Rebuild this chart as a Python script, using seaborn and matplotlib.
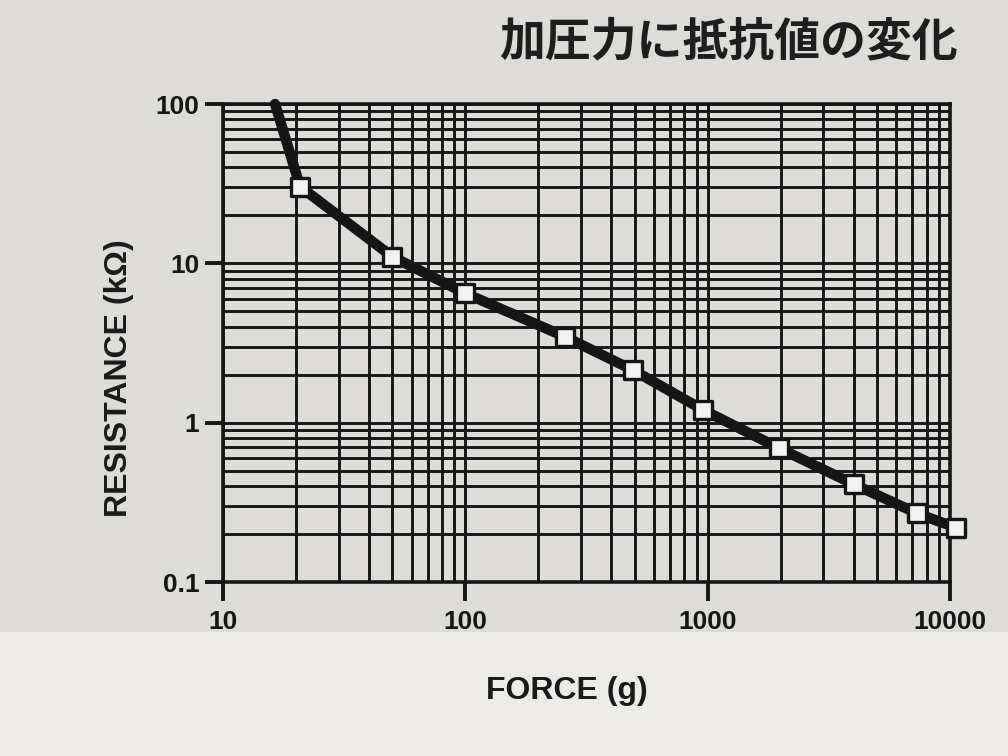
import matplotlib
matplotlib.use("Agg")
import matplotlib.pyplot as plt
from matplotlib.patches import Rectangle
import seaborn as sns
import pandas as pd

# ---- data ----
force = [16.4, 20.8, 50, 100, 258, 491, 960, 1977, 4020, 7300, 10600]
resistance = [100, 30.3, 11.0, 6.48, 3.46, 2.14, 1.20, 0.69, 0.41, 0.27, 0.219]
marker_force = force[1:]
marker_resistance = resistance[1:]
x_ticks = [10, 100, 1000, 10000]
x_tick_labels = ["10", "100", "1000", "10000"]
y_ticks = [0.1, 1, 10, 100]
y_tick_labels = ["0.1", "1", "10", "100"]
title = "加圧力に抵抗値の変化"
x_label = "FORCE (g)"
y_label = "RESISTANCE (kΩ)"

sns.set_theme(style="white")
plt.rcParams["font.family"] = ["Liberation Sans", "DejaVu Sans"]

bg = "#dddcd8"
fig = plt.figure(figsize=(10.08, 7.56), dpi=100, facecolor=bg)
# lighter lower sheet of paper
fig.patches.append(Rectangle((0, 0), 1, 1 - 632 / 756, transform=fig.transFigure,
                             facecolor="#ecebe8", edgecolor="none", zorder=-5))

ax = fig.add_axes([223 / 1008, 1 - 582 / 756, (950 - 223) / 1008, (582 - 104) / 756])
ax.set_facecolor(bg)

line_df = pd.DataFrame({"force": force, "resistance": resistance})
mark_df = pd.DataFrame({"force": marker_force, "resistance": marker_resistance})

sns.lineplot(data=line_df, x="force", y="resistance", ax=ax, color="#151515",
             linewidth=7.5, sort=False, clip_on=False, zorder=5)
sns.scatterplot(data=mark_df, x="force", y="resistance", ax=ax, marker="s",
                s=170, color="#f2f2f0", edgecolor="#151515", linewidth=2.4,
                clip_on=False, zorder=6)

ax.set_xscale("log")
ax.set_yscale("log")
ax.set_xlim(10, 10000)
ax.set_ylim(0.1, 100)

ax.grid(True, which="both", color="#161616", linewidth=2.1)
ax.set_axisbelow(True)

ax.set_xticks(x_ticks)
ax.set_xticklabels(x_tick_labels)
ax.set_yticks(y_ticks)
ax.set_yticklabels(y_tick_labels)
ax.tick_params(axis="x", which="major", direction="out", length=14, width=2.8,
               color="#161616", labelsize=19, pad=6, bottom=True)
ax.tick_params(axis="y", which="major", direction="out", length=13, width=2.8,
               color="#161616", labelsize=19, pad=4, left=True)
ax.tick_params(which="minor", length=0)
for lab in ax.get_xticklabels() + ax.get_yticklabels():
    lab.set_fontweight("bold")
    lab.set_color("#161616")

for s in ax.spines.values():
    s.set_color("#161616")
    s.set_linewidth(2.6)
    s.set_visible(True)

ax.set_xlabel(x_label, fontsize=23, fontweight="bold", color="#1a1a1a")
ax.set_ylabel(y_label, fontsize=23, fontweight="bold", color="#1a1a1a")
ax.xaxis.set_label_coords((567 - 223) / 727, (582 - 676) / 478)
ax.yaxis.set_label_coords((134 - 223) / 727, (582 - 378) / 478)

fig.text(958 / 1008, 1 - 42 / 756, title, ha="right", va="center",
         fontsize=33, fontweight="bold", color="#1e1e1e",
         family=["Noto Sans CJK JP", "DejaVu Sans"])

fig.savefig("out.png", dpi=100, facecolor=fig.get_facecolor())
